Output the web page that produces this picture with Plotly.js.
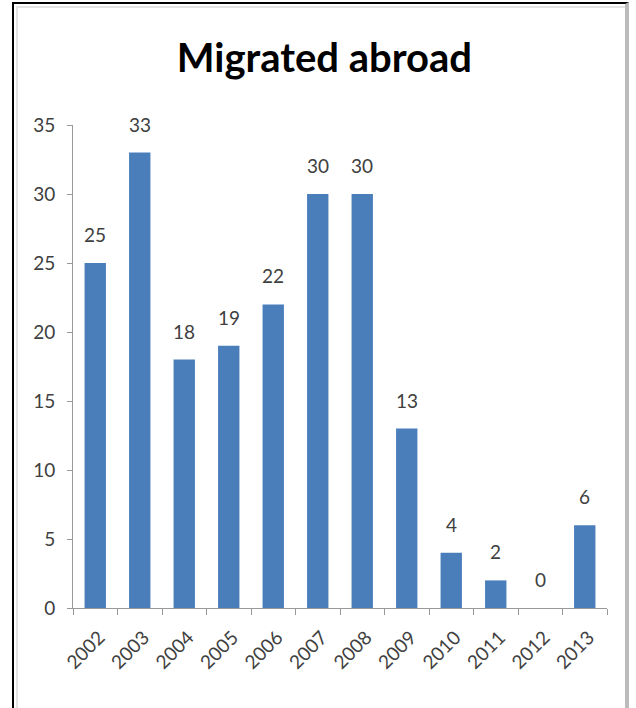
<!DOCTYPE html>
<html>
<head>
<meta charset="utf-8">
<script src="https://cdn.plot.ly/plotly-3.0.1.min.js"></script>
<style>
  html, body { margin: 0; padding: 0; background: #fff; }
  #wrap { position: relative; width: 636px; height: 708px; overflow: hidden; }
  #frame { position: absolute; left: 12px; top: 2px; width: 617px; height: 720px;
           border-left: 2px solid #000; border-top: 2px solid #000; border-right: 4px solid #bbb; box-sizing: border-box; pointer-events: none; }
  #inner { position: absolute; left: 16px; top: 6px; width: 611px; height: 720px;
           border-left: 2px solid #e4e4e4; border-top: 2px solid #e4e4e4; box-sizing: border-box; pointer-events: none; }
  #chart { position: absolute; left: 0; top: 0; width: 636px; height: 708px; }
</style>
</head>
<body>
<div id="wrap">
  <div id="chart"></div>
  <div id="inner"></div>
  <div id="frame"></div>
</div>
<script>
const years = ['2002','2003','2004','2005','2006','2007','2008','2009','2010','2011','2012','2013'];
const migrated = [25, 33, 18, 19, 22, 30, 30, 13, 4, 2, 0, 6];
const yTicks = [0, 5, 10, 15, 20, 25, 30, 35];

const labelFont = { family: 'Lato, "Open Sans", sans-serif', size: 19, color: '#404040' };

const trace = {
  type: 'bar',
  x: years,
  y: migrated,
  marker: { color: '#4a7ebb' },
  hoverinfo: 'x+y'
};

const annotations = years.map((yr, i) => ({
  x: i, y: migrated[i], xref: 'x', yref: 'y',
  text: String(migrated[i]), showarrow: false,
  yanchor: 'bottom', yshift: 15, font: labelFont
}));

const layout = {
  width: 636, height: 708,
  margin: { l: 73, r: 29, t: 125, b: 100 },
  paper_bgcolor: 'rgba(0,0,0,0)',
  plot_bgcolor: 'rgba(0,0,0,0)',
  title: {
    text: '<b>Migrated abroad</b>',
    font: { family: 'Lato, "Open Sans", sans-serif', size: 40, color: '#000' },
    x: 0.51, xanchor: 'center',
    y: 0.918, yanchor: 'middle', yref: 'container'
  },
  bargap: 0.52,
  showlegend: false,
  xaxis: {
    type: 'category',
    categoryorder: 'array', categoryarray: years,
    range: [-0.5, years.length - 0.5],
    tickangle: -45,
    tickson: 'boundaries',
    ticks: 'outside', ticklen: 6, tickcolor: '#999', tickwidth: 1,
    showline: true, linecolor: '#999', linewidth: 1,
    showgrid: false, zeroline: false,
    tickfont: labelFont,
    ticklabelstandoff: 10,
    ticklabelshift: 4
  },
  yaxis: {
    range: [0, 35],
    tickvals: yTicks,
    ticks: 'outside', ticklen: 5, tickcolor: '#999', tickwidth: 1,
    showline: true, linecolor: '#999', linewidth: 1,
    showgrid: false, zeroline: false,
    tickfont: labelFont,
    ticklabelstandoff: 8
  },
  annotations: annotations
};

Plotly.newPlot('chart', [trace], layout, { displayModeBar: false, staticPlot: true });
</script>
</body>
</html>
